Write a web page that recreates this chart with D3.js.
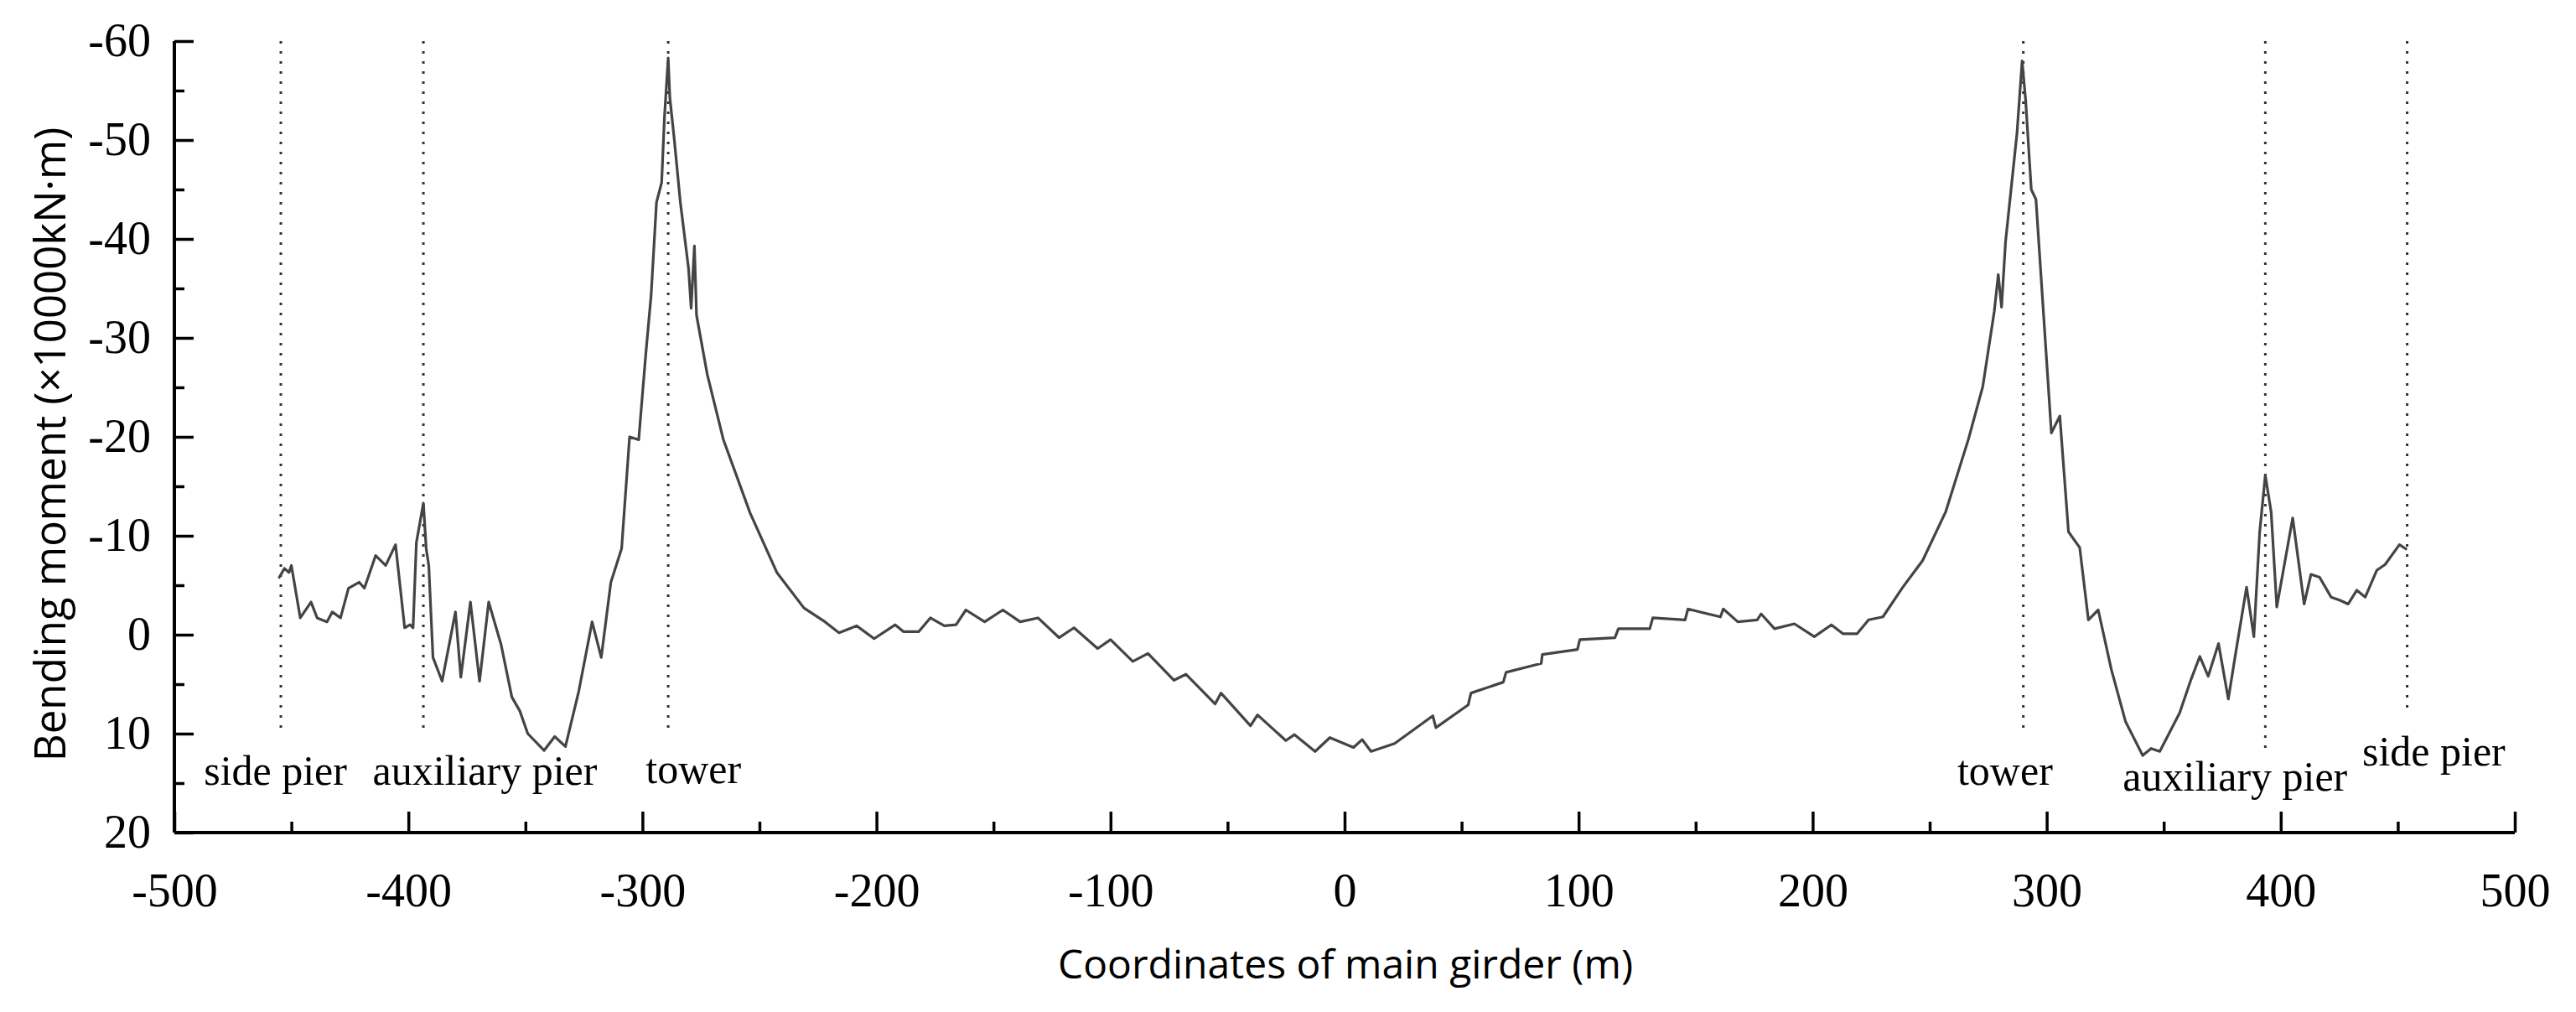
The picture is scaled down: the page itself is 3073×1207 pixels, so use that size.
<!DOCTYPE html>
<html><head><meta charset="utf-8">
<script src="https://cdn.jsdelivr.net/npm/d3@7"></script>
<style>body{margin:0;background:#fff}</style>
</head><body>
<svg id="c" width="3073" height="1207"></svg>
<script>
// Data: girder coordinate (m) and bending moment (x10000 kN·m)
const xs = [-455.4,-453,-451,-450,-446.2,-441.6,-439,-434.8,-432.5,-429,-425.6,-421,-418.8,-414,-409.7,-405.5,-401.6,-399.3,-398,-396.6,-393.6,-392.4,-391.3,-389.5,-385.6,-379.9,-377.6,-373.5,-369.6,-365.7,-360.4,-355.8,-352.4,-349,-342,-337.5,-332.9,-327.2,-321.5,-317.6,-313.5,-308.9,-305.5,-301.6,-298.6,-296.3,-294,-291.8,-290.6,-289,-288.3,-286.5,-283.8,-280.3,-279.2,-277.8,-276.9,-272.3,-265.4,-254,-242.6,-231,-222,
-216,-208.5,-201,-192,-188.4,-182,-177,-171,-166,-161.8,-153.8,-146,-138.6,-131,-122,-115.6,-105.5,-100,-90.5,-84,-72.9,-67.8,-55.3,-52.8,-40.2,-37.2,-25.1,-21.4,-12.6,-6.3,3.8,7.5,11.3,21.4,37.7,39,52.8,54,67.8,69,84,84.5,99.5,100.5,115.5,117,130.4,131.7,145.5,146.7,160.6,161.8,168,
176.3,178,183.7,192.2,200.7,208,212.9,219,223.9,230,238.5,247,256.8,266.6,272.7,277.6,279.3,280.7,282.4,287.3,289.5,291,293.4,295.4,302,305.6,309.3,314.1,317.8,322,327.6,333.7,341,344.6,348.3,356.8,361.7,365.4,369,373.4,377.6,380.7,385.4,388.5,391,393.4,395.9,398.3,405.1,410,412.9,416.6,421.5,425.1,428.8,432.5,436.1,441,444.6,450.7,453.9];
const moment = [-5.7,-6.7,-6.3,-7,-1.7,-3.3,-1.7,-1.3,-2.3,-1.7,-4.7,-5.3,-4.7,-8,-7,-9.1,-0.7,-1,-0.7,-9.3,-13.3,-8.7,-7,2.3,4.7,-2.3,4.3,-3.3,4.7,-3.3,1,6.3,7.7,10,11.7,10.3,11.3,5.7,-1.3,2.3,-5.3,-8.7,-20,-19.7,-28.3,-34.3,-43.7,-45.7,-52.3,-58.3,-54.3,-50.3,-43.7,-37,-33,-39.3,-32.3,-26.3,-19.7,-12.3,-6.3,-2.7,-1.3,
-0.2,-0.9,0.4,-1,-0.3,-0.3,-1.7,-0.9,-1,-2.5,-1.3,-2.5,-1.3,-1.7,0.3,-0.7,1.4,0.5,2.7,1.9,4.6,4,7,5.9,9.2,8.1,10.7,10.1,11.8,10.4,11.4,10.6,11.8,11,8.2,9.4,7.1,5.9,4.8,3.8,2.9,2,1.5,0.5,0.3,-0.6,-0.6,-1.7,-1.5,-2.6,-1.8,-2.6,-1.3,
-1.5,-2.1,-0.6,-1.1,0.2,-1,-0.1,-0.1,-1.5,-1.8,-4.8,-7.5,-12.4,-19.8,-25.1,-32.7,-36.4,-33.1,-39.7,-50.7,-58,-54,-45,-44,-20.4,-22.1,-10.4,-8.8,-1.5,-2.5,3.5,8.8,12.2,11.5,11.8,7.9,4.5,2.2,4.2,0.9,6.5,1.9,-4.8,0.2,-10.4,-16.1,-12.4,-2.8,-11.8,-3.1,-6.1,-5.8,-3.8,-3.5,-3.1,-4.5,-3.8,-6.5,-7.1,-9.1,-8.6];
const xTicks = [-500,-400,-300,-200,-100,0,100,200,300,400,500];
const yTicks = [-60,-50,-40,-30,-20,-10,0,10,20];
const markerX = [-454.5,-393.6,-289,290,393.4,454];
const markerBottom = [10,10,10,10,11.8,7.5];
const labels = ["side pier","auxiliary pier","tower","tower","auxiliary pier","side pier"];
const labelX = [-487.4,-415.3,-298.6,261.8,332.5,434.8];
const labelY = [15.2,15.2,15.0,15.2,15.8,13.2];

const svg = d3.select("#c");
const x = d3.scaleLinear().domain([-500,500]).range([208,3000]);
const y = d3.scaleLinear().domain([-60,20]).range([49,993]);
const col = "#000";
const fmt = d => String(d);

const xa = svg.append("g").attr("transform","translate(0,993)")
  .call(d3.axisBottom(x).tickValues(xTicks).tickSize(-25).tickPadding(48).tickFormat(fmt));
const xm = svg.append("g").attr("transform","translate(0,993)")
  .call(d3.axisBottom(x).tickValues(d3.range(-450,500,100)).tickSize(-13).tickFormat(""));
const ya = svg.append("g").attr("transform","translate(208,0)")
  .call(d3.axisLeft(y).tickValues(yTicks).tickSize(-23).tickPadding(28).tickFormat(fmt));
const ym = svg.append("g").attr("transform","translate(208,0)")
  .call(d3.axisLeft(y).tickValues(d3.range(-55,20,10)).tickSize(-12).tickFormat(""));
[xa,xm,ya,ym].forEach(g=>{
  g.selectAll("path").attr("stroke",col).attr("stroke-width",4);
  g.selectAll("line").attr("stroke",col).attr("stroke-width",3.5);
  g.selectAll("text").attr("fill","#000").style("font-family","'Liberation Serif','Times New Roman',serif").style("font-size","56px");
});
xa.select(".domain").attr("d","M208,0H3000");
ya.select(".domain").attr("d","M0,49V993");
xm.select(".domain").remove(); ym.select(".domain").remove();

svg.append("g").selectAll("line").data(markerX).join("line")
  .attr("x1",d=>x(d)).attr("x2",d=>x(d))
  .attr("y1",y(-60)).attr("y2",(d,i)=>y(markerBottom[i]))
  .attr("stroke","#333").attr("stroke-width",3).attr("stroke-dasharray","3,9");

svg.append("g").selectAll("text").data(labels).join("text")
  .attr("x",(d,i)=>x(labelX[i])).attr("y",(d,i)=>y(labelY[i]))
  .style("font-family","'Liberation Serif','Times New Roman',serif").style("font-size","50px")
  .attr("fill","#000").text(d=>d);

const pts = xs.map((v,i)=>[v,moment[i]]);
svg.append("path").datum(pts)
  .attr("fill","none").attr("stroke","#444").attr("stroke-width",3.2).attr("stroke-linejoin","round")
  .attr("d",d3.line().x(d=>x(d[0])).y(d=>y(d[1])));

svg.append("text").attr("x",1605).attr("y",1167).attr("text-anchor","middle")
  .style("font-family","'Open Sans',sans-serif").style("font-size","48px").attr("fill","#000")
  .text("Coordinates of main girder (m)");
svg.append("text").attr("transform","translate(78,530) rotate(-90)").attr("text-anchor","middle")
  .style("font-family","'Open Sans',sans-serif").style("font-size","51px").attr("fill","#000")
  .text("Bending moment (×10000kN·m)");
</script>
</body></html>
